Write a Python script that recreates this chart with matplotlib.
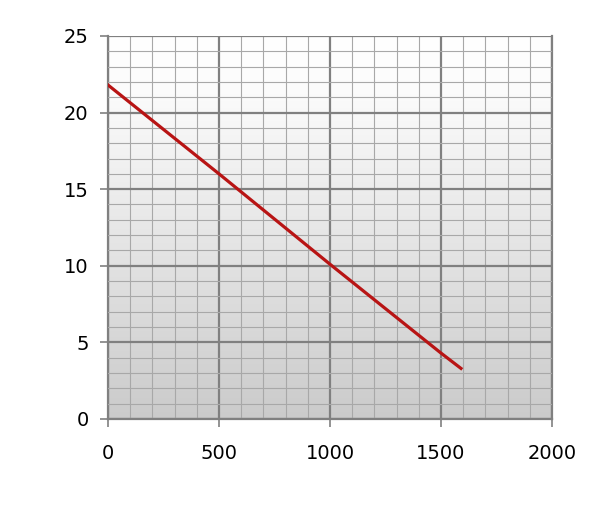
import matplotlib
matplotlib.use("Agg")
import matplotlib.pyplot as plt
import numpy as np

flow = [0, 500, 1000, 1500, 1590]
head = [21.8, 16.0, 10.1, 4.3, 3.3]

x_ticks = [0, 500, 1000, 1500, 2000]
y_ticks = [0, 5, 10, 15, 20, 25]

fig = plt.figure(figsize=(6, 5.29), dpi=100)
ax = fig.add_axes([0.18, 0.208, 0.74, 0.724])

# vertical gradient background, white at top to grey at bottom
grad = np.linspace(0, 1, 256).reshape(-1, 1)
cmap = matplotlib.colors.LinearSegmentedColormap.from_list(
    "bg", [(0, "#cbcbcb"), (0.85, "#fbfbfb"), (1, "#ffffff")])
ax.imshow(grad, extent=[0, 2000, 0, 25], origin="lower", aspect="auto", cmap=cmap, zorder=0)

ax.set_xlim(0, 2000)
ax.set_ylim(0, 25)
ax.set_xticks(x_ticks)
ax.set_yticks(y_ticks)
ax.set_xticks(np.arange(0, 2001, 100), minor=True)
ax.set_yticks(np.arange(0, 26, 1), minor=True)

ax.grid(which="minor", color="#a8a8a8", linewidth=0.8, zorder=1)
ax.grid(which="major", color="#808080", linewidth=1.6, zorder=1)
ax.set_axisbelow(False)

ax.plot(flow, head, color="#b81414", linewidth=2.3, zorder=3)

for s in ax.spines.values():
    s.set_color("#808080")
    s.set_linewidth(1.6)
ax.spines["top"].set_visible(False)

ax.tick_params(which="major", length=6, width=1.2, color="#808080", labelsize=14)
ax.tick_params(axis="y", pad=8)
ax.tick_params(axis="x", pad=12)
ax.tick_params(which="minor", length=0)

fig.savefig("out.png", dpi=100)
